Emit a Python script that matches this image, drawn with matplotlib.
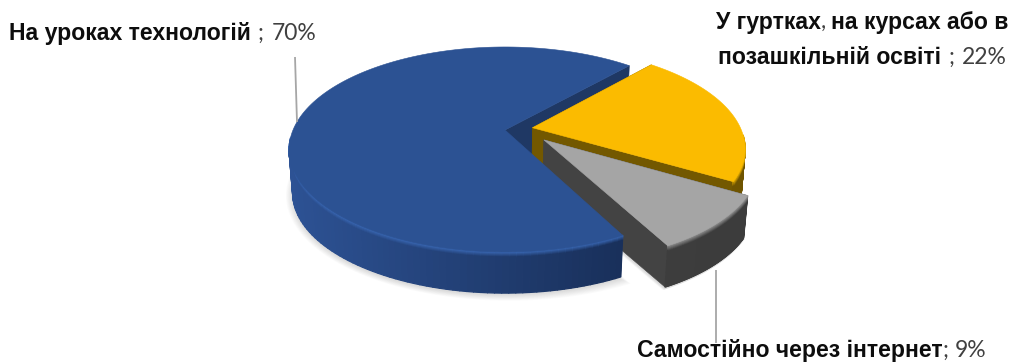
import numpy as np
import matplotlib
matplotlib.use("Agg")
import matplotlib.pyplot as plt
from matplotlib.collections import PolyCollection
from matplotlib.colors import to_rgb
from matplotlib.patches import Polygon

# Slice values, in drawing order clockwise from the start angle
categories = ["На уроках технологій", "У гуртках, на курсах або в позашкільній освіті", "Самостійно через інтернет"]
values = [70, 22, 9]
percent_labels = ["70%", "22%", "9%"]

# Appearance of each slice
top_colors = ["#2c5293", "#fbbb00", "#a5a5a5"]
bevel_colors = ["#3a68b4", "#d9a400", "#8a8a8a"]
side_left = ["#2d5294", "#7f6000", "#454545"]
side_right = ["#13264a", "#6f5400", "#3c3c3c"]
cut_colors = ["#1f3864", "#735800", "#434343"]
explode_du = [0.0, 0.13, 0.18]
explode_dv = [0.0, 0.023, -0.098]
radius_scale = [1.0, 0.985, 0.97]

START_DEG = -62.5
PERSPECTIVE = 0.19
TOP = dict(cx=505.0, cy=130.0, a=212.0, b=98.8)
BOTTOM = dict(cx=505.0, cy=174.0, a=208.5, b=96.5)


def project(u, v, level=0.0):
    """Map points of the unit disc to the page; level 0 is the top face, 1 the base."""
    cx = TOP["cx"] + (BOTTOM["cx"] - TOP["cx"]) * level
    cy = TOP["cy"] + (BOTTOM["cy"] - TOP["cy"]) * level
    a = TOP["a"] + (BOTTOM["a"] - TOP["a"]) * level
    b = TOP["b"] + (BOTTOM["b"] - TOP["b"]) * level
    w = 1.0 + PERSPECTIVE * np.asarray(v)
    return cx + a * np.asarray(u) / w, cy - b * np.asarray(v) / w


fig = plt.figure(figsize=(10.14, 3.62), dpi=100)
ax = fig.add_axes([0, 0, 1, 1])
ax.set_xlim(0, 1014)
ax.set_ylim(362, 0)
ax.axis("off")

sweeps = np.array(values, dtype=float) / sum(values) * 360.0
ends = START_DEG - np.cumsum(sweeps)
starts = ends + sweeps

slices = []
for i in range(len(values)):
    theta = np.radians(np.linspace(starts[i], ends[i], 160))
    du, dv = explode_du[i], explode_dv[i]
    s = radius_scale[i]
    slices.append((s * np.cos(theta) + du, s * np.sin(theta) + dv, du, dv, theta))


def outline(i, level):
    u, v, du, dv, _ = slices[i]
    x, y = project(u, v, level)
    ax_, ay_ = project(du, dv, level)
    return np.column_stack([np.r_[ax_, x], np.r_[ay_, y]])


# Soft contact shadow below each slice
for i in range(len(values)):
    base = outline(i, 1.0)
    mid = base.mean(axis=0)
    for grow in np.linspace(1.05, 1.0, 9):
        pts = mid + (base - mid) * grow + np.array([0, 2.0])
        ax.add_patch(Polygon(pts, closed=True, fc="black", ec="none", alpha=0.016, zorder=1))


def draw_cut_faces(i, z):
    u, v, du, dv, _ = slices[i]
    for k in (0, -1):
        ex, ey = project([u[k], du], [v[k], dv], 0.0)
        fx, fy = project([du, u[k]], [dv, v[k]], 1.0)
        face = np.column_stack([np.r_[ex, fx], np.r_[ey, fy]])
        ax.add_patch(Polygon(face, closed=True, fc=cut_colors[i], ec=cut_colors[i], lw=0.4, zorder=z))


def draw_wall_and_top(i, z):
    u, v, du, dv, theta = slices[i]
    # Outer wall of the viewer-facing arc, shaded along the arc and away from the bevelled rim
    levels = np.r_[np.linspace(0, 0.12, 6), 1.0]
    top_rgb = np.array(to_rgb(bevel_colors[i]))
    left = np.array(to_rgb(side_left[i]))
    right = np.array(to_rgb(side_right[i]))
    xs_all, _ = project(np.cos(np.linspace(0, 2 * np.pi, 400)), np.sin(np.linspace(0, 2 * np.pi, 400)))
    polys, colors = [], []
    for j in range(len(u) - 1):
        if np.sin(theta[j]) > -0.08 and np.sin(theta[j + 1]) > -0.08:
            continue
        xm, _ = project(u[j], v[j])
        t = np.clip((xm - xs_all.min()) / (xs_all.max() - xs_all.min()), 0, 1)
        wall = left + (right - left) * t
        for m in range(len(levels) - 1):
            x0, y0 = project(u[j:j + 2], v[j:j + 2], levels[m])
            x1, y1 = project(u[j:j + 2], v[j:j + 2], levels[m + 1])
            polys.append(np.column_stack([np.r_[x0, x1[::-1]], np.r_[y0, y1[::-1]]]))
            f = min(1.0, m / (len(levels) - 2))
            colors.append(top_rgb + (wall - top_rgb) * f)
    ax.add_collection(PolyCollection(polys, facecolors=colors, edgecolors=colors, linewidths=0.9, zorder=z))

    # Top face
    ax.add_patch(Polygon(outline(i, 0.0), closed=True, fc=top_colors[i], ec=top_colors[i], lw=0.4, zorder=z + 0.5))


# Painter's order: the large slice's cut faces go behind both wedges,
# while its top face overlaps their inner tips
draw_cut_faces(0, 2)
draw_cut_faces(1, 3)
draw_wall_and_top(1, 3)
draw_cut_faces(2, 4)
draw_wall_and_top(2, 4)
draw_wall_and_top(0, 5)

# Leader lines
ax.plot([295, 297], [57, 122], color="#a6a6a6", lw=1.3, zorder=6, solid_capstyle="butt")
ax.plot([715.5, 715.5], [270, 343], color="#a6a6a6", lw=1.3, zorder=6, solid_capstyle="butt")

renderer = fig.canvas.get_renderer()
BOLD = dict(family="Liberation Sans", fontweight="bold", color="#0d0d0d", fontsize=16.6)
LIGHT = dict(family="Lato", fontweight="normal", color="#404040", fontsize=16.5)


def put_runs(x, y, runs):
    """Place differently styled pieces of text one after another on a baseline."""
    for string, style, gap in runs:
        t = ax.text(x, y, string, va="baseline", ha="left", zorder=7, **style)
        x = t.get_window_extent(renderer).x1 + gap


put_runs(9, 40, [("На уроках технологій", BOLD, 7), (";", LIGHT, 8), (percent_labels[0], LIGHT, 0)])
put_runs(716, 29, [("У гуртках", BOLD, 0), (",", LIGHT, 5), ("на курсах або в", BOLD, 0)])
put_runs(718, 64, [("позашкільній освіті", BOLD, 7), (";", LIGHT, 8), (percent_labels[1], LIGHT, 0)])
put_runs(637, 357, [("Самостійно через інтернет", BOLD, 0), (";", LIGHT, 6), (percent_labels[2], LIGHT, 0)])

fig.savefig("out.png", dpi=100, facecolor="white")
